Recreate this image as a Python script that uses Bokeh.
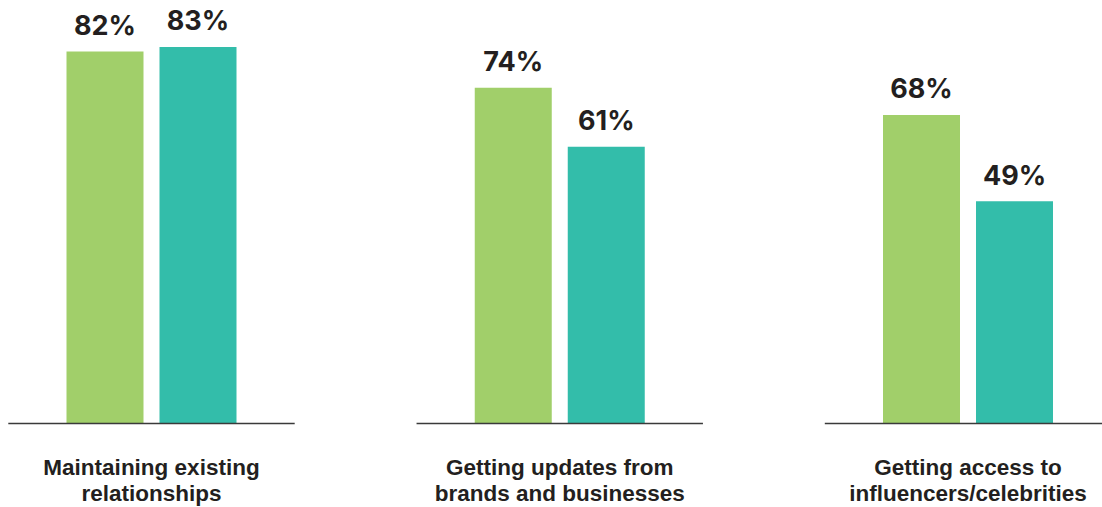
from bokeh.plotting import figure
from bokeh.models import Range1d, ColumnDataSource
from bokeh.transform import dodge
from bokeh.core.properties import value
from bokeh.embed import file_html
from bokeh.resources import INLINE

# ---- data ----
categories = [
    "Maintaining existing\nrelationships",
    "Getting updates from\nbrands and businesses",
    "Getting access to\ninfluencers/celebrities",
]
series_green = [82, 74, 68]
series_teal = [83, 61, 49]

# ---- styling / layout ----
GREEN = "#A1CF6A"
TEAL = "#33BDAA"
TEXT = "#231F20"
W, H = 1102, 507
PX_GROUP = 408.25      # pixels between group centres
PX_PCT = 4.537         # pixels per percentage point
X0_PX = 151.0          # first group centre from frame left
Y0_PX = 423.0          # zero line from frame top
BAR_W = 77 / PX_GROUP
OFF = 46.5 / PX_GROUP
HALF_BASE = 143.2 / PX_GROUP

idx = list(range(len(categories)))
line1 = [c.split("\n")[0] for c in categories]
line2 = [c.split("\n")[1] for c in categories]
src = ColumnDataSource(dict(
    idx=idx,
    green=series_green,
    teal=series_teal,
    green_lbl=[f"{v}%" for v in series_green],
    teal_lbl=[f"{v}%" for v in series_teal],
    l1=line1,
    l2=line2,
    x0=[i - HALF_BASE for i in idx],
    x1=[i + HALF_BASE for i in idx],
    zero=[0] * len(idx),
))

xs = -X0_PX / PX_GROUP
ys_top = Y0_PX / PX_PCT
p = figure(
    width=W, height=H,
    x_range=Range1d(xs, xs + W / PX_GROUP),
    y_range=Range1d(ys_top - H / PX_PCT, ys_top),
    x_axis_type=None, y_axis_type=None,
    toolbar_location=None, output_backend="svg",
    min_border=0, outline_line_color=None,
    background_fill_color="white", border_fill_color="white",
)
p.xgrid.visible = False
p.ygrid.visible = False

p.vbar(x=dodge("idx", -OFF, range=p.x_range), top="green", bottom=0, width=BAR_W,
       source=src, fill_color=GREEN, line_color=None)
p.vbar(x=dodge("idx", OFF, range=p.x_range), top="teal", bottom=0, width=BAR_W,
       source=src, fill_color=TEAL, line_color=None)

p.segment(x0="x0", y0="zero", x1="x1", y1="zero", source=src,
          line_color="#3A3A3A", line_width=1.5)

vfont = value("Inter")
cfont = value("Liberation Sans")
p.text(x=dodge("idx", -OFF, range=p.x_range), y="green", text="green_lbl", source=src,
       text_align="center", text_baseline="alphabetic", y_offset=-26,
       text_font=vfont, text_font_style="bold", text_font_size="27px", text_color=TEXT)
p.text(x=dodge("idx", OFF, range=p.x_range), y="teal", text="teal_lbl", source=src,
       text_align="center", text_baseline="alphabetic", y_offset=-26,
       text_font=vfont, text_font_style="bold", text_font_size="27px", text_color=TEXT)

p.text(x="idx", y="zero", text="l1", source=src, text_align="center",
       text_baseline="alphabetic", y_offset=44, text_font=cfont,
       text_font_style="bold", text_font_size="22.5px", text_color=TEXT)
p.text(x="idx", y="zero", text="l2", source=src, text_align="center",
       text_baseline="alphabetic", y_offset=70, text_font=cfont,
       text_font_style="bold", text_font_size="22.5px", text_color=TEXT)

open("out.html", "w").write(file_html(p, INLINE))
